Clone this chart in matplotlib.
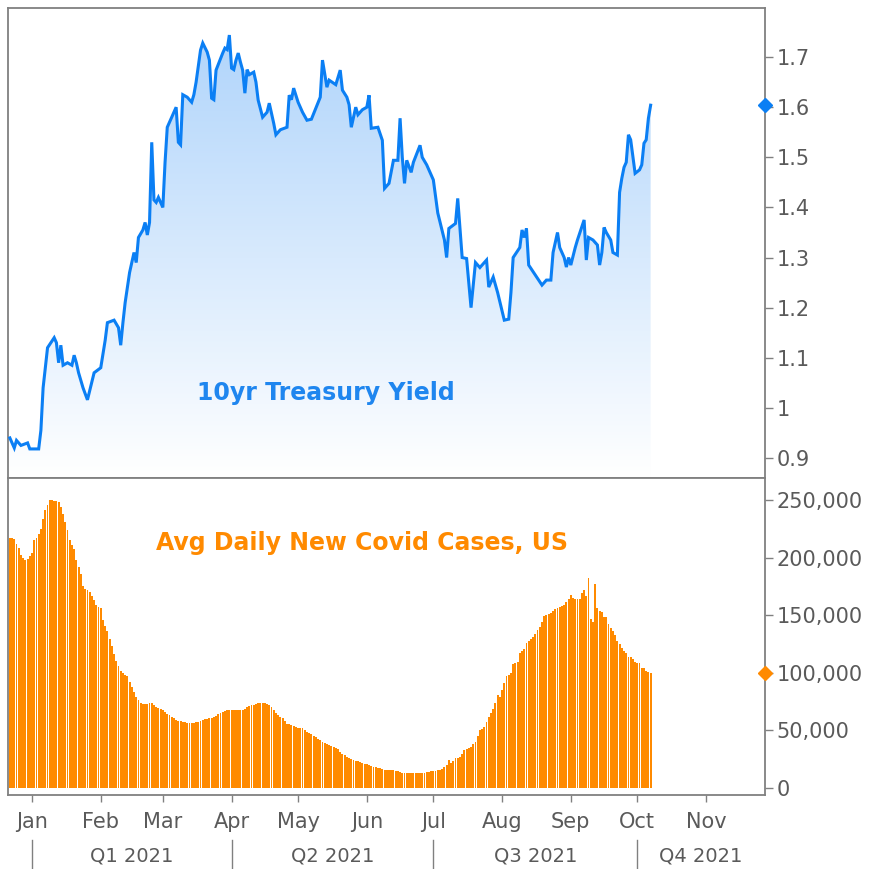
import matplotlib
matplotlib.use("Agg")
import numpy as np
import pandas as pd
import matplotlib.pyplot as plt
import matplotlib.dates as mdates
from matplotlib.colors import LinearSegmentedColormap
from matplotlib.patches import Polygon
from matplotlib.transforms import blended_transform_factory

# -----------------------------
# DATA
# -----------------------------
yield_dates = [
    "2020-12-22", "2020-12-24", "2020-12-25", "2020-12-27", "2020-12-30", "2020-12-31",
    "2021-01-04", "2021-01-05", "2021-01-06", "2021-01-07", "2021-01-08", "2021-01-11",
    "2021-01-12", "2021-01-13", "2021-01-14", "2021-01-15", "2021-01-17", "2021-01-19",
    "2021-01-20", "2021-01-21", "2021-01-22", "2021-01-24", "2021-01-26", "2021-01-29",
    "2021-02-01", "2021-02-03", "2021-02-04", "2021-02-07", "2021-02-09", "2021-02-10",
    "2021-02-11", "2021-02-12", "2021-02-14", "2021-02-15", "2021-02-16", "2021-02-17",
    "2021-02-18", "2021-02-20", "2021-02-21", "2021-02-22", "2021-02-23", "2021-02-24",
    "2021-02-25", "2021-02-26", "2021-02-27", "2021-03-01", "2021-03-02", "2021-03-03",
    "2021-03-05", "2021-03-07", "2021-03-08", "2021-03-09", "2021-03-10", "2021-03-12",
    "2021-03-14", "2021-03-15", "2021-03-16", "2021-03-18", "2021-03-19", "2021-03-21",
    "2021-03-22", "2021-03-23", "2021-03-24", "2021-03-25", "2021-03-28", "2021-03-29",
    "2021-03-30", "2021-03-31", "2021-04-01", "2021-04-02", "2021-04-03", "2021-04-04",
    "2021-04-05", "2021-04-06", "2021-04-07", "2021-04-08", "2021-04-09", "2021-04-11",
    "2021-04-12", "2021-04-13", "2021-04-15", "2021-04-17", "2021-04-18", "2021-04-20",
    "2021-04-21", "2021-04-23", "2021-04-26", "2021-04-27", "2021-04-28", "2021-04-29",
    "2021-05-01", "2021-05-03", "2021-05-05", "2021-05-07", "2021-05-09", "2021-05-11",
    "2021-05-12", "2021-05-14", "2021-05-15", "2021-05-18", "2021-05-20", "2021-05-21",
    "2021-05-23", "2021-05-24", "2021-05-25", "2021-05-27", "2021-05-28", "2021-05-30",
    "2021-06-01", "2021-06-02", "2021-06-03", "2021-06-06", "2021-06-08", "2021-06-09",
    "2021-06-11", "2021-06-13", "2021-06-15", "2021-06-16", "2021-06-17", "2021-06-18",
    "2021-06-19", "2021-06-21", "2021-06-22", "2021-06-25", "2021-06-26", "2021-06-28",
    "2021-07-01", "2021-07-03", "2021-07-06", "2021-07-07", "2021-07-08", "2021-07-11",
    "2021-07-12", "2021-07-14", "2021-07-16", "2021-07-18", "2021-07-20", "2021-07-22",
    "2021-07-25", "2021-07-26", "2021-07-28", "2021-07-30", "2021-08-02", "2021-08-04",
    "2021-08-05", "2021-08-06", "2021-08-09", "2021-08-10", "2021-08-11", "2021-08-12",
    "2021-08-13", "2021-08-16", "2021-08-19", "2021-08-21", "2021-08-23", "2021-08-24",
    "2021-08-26", "2021-08-27", "2021-08-29", "2021-08-30", "2021-08-31", "2021-09-01",
    "2021-09-03", "2021-09-04", "2021-09-07", "2021-09-08", "2021-09-09", "2021-09-11",
    "2021-09-13", "2021-09-14", "2021-09-15", "2021-09-16", "2021-09-17", "2021-09-19",
    "2021-09-20", "2021-09-22", "2021-09-23", "2021-09-24", "2021-09-25", "2021-09-26",
    "2021-09-27", "2021-09-28", "2021-09-30", "2021-10-02", "2021-10-03", "2021-10-04",
    "2021-10-05", "2021-10-06", "2021-10-07",
]
yield_vals = [
    0.94, 0.92, 0.935, 0.925, 0.93, 0.918,
    0.918, 0.955, 1.04, 1.08, 1.12, 1.14,
    1.13, 1.09, 1.125, 1.085, 1.09, 1.085,
    1.105, 1.09, 1.07, 1.04, 1.016, 1.07,
    1.08, 1.135, 1.17, 1.175, 1.16, 1.125,
    1.17, 1.21, 1.27, 1.29, 1.31, 1.29,
    1.34, 1.355, 1.37, 1.345, 1.37, 1.53,
    1.415, 1.41, 1.42, 1.40, 1.49, 1.56,
    1.58, 1.60, 1.53, 1.525, 1.625, 1.62,
    1.61, 1.625, 1.65, 1.714, 1.728, 1.71,
    1.694, 1.618, 1.615, 1.674, 1.708, 1.718,
    1.715, 1.744, 1.678, 1.675, 1.694, 1.708,
    1.69, 1.674, 1.628, 1.675, 1.665, 1.67,
    1.65, 1.614, 1.58, 1.59, 1.608, 1.568,
    1.545, 1.555, 1.56, 1.624, 1.615, 1.638,
    1.61, 1.59, 1.574, 1.576, 1.598, 1.62,
    1.694, 1.64, 1.654, 1.645, 1.674, 1.634,
    1.62, 1.605, 1.56, 1.60, 1.585, 1.595,
    1.60, 1.624, 1.558, 1.56, 1.534, 1.438,
    1.448, 1.494, 1.494, 1.578, 1.50, 1.448,
    1.494, 1.47, 1.49, 1.524, 1.50, 1.485,
    1.455, 1.389, 1.335, 1.30, 1.358, 1.368,
    1.418, 1.30, 1.298, 1.20, 1.29, 1.28,
    1.295, 1.241, 1.261, 1.23, 1.175, 1.177,
    1.23, 1.30, 1.32, 1.355, 1.34, 1.358,
    1.285, 1.265, 1.245, 1.255, 1.255, 1.31,
    1.35, 1.32, 1.30, 1.281, 1.30, 1.285,
    1.32, 1.335, 1.375, 1.295, 1.34, 1.335,
    1.325, 1.285, 1.31, 1.36, 1.35, 1.335,
    1.31, 1.305, 1.43, 1.458, 1.48, 1.49,
    1.545, 1.535, 1.468, 1.475, 1.485, 1.528,
    1.535, 1.578, 1.604,
]

# daily 7-day average new cases (thousands), one value per day from covid_start
covid_start = "2020-12-22"
covid_k = [
    217, 217, 216, 212, 208, 202, 200, 198, 199, 201,
    204, 215, 217, 220, 225, 233, 241, 246, 250, 250,
    249, 249, 248, 244, 238, 231, 224, 215, 211, 207,
    198, 192, 186, 175, 173, 172, 170, 167, 163, 159,
    157, 156, 146, 141, 136, 129, 123, 116, 110, 106,
    102, 100, 98, 97, 92, 88, 83, 79, 76, 74,
    73, 73, 73, 74, 73.5, 72, 70.6, 69.5, 68.5, 67.7,
    66, 64.5, 63.4, 62, 60.5, 59, 58.5, 58, 57.6, 57,
    56.5, 56.2, 56.5, 56.8, 57, 57.5, 58.2, 59, 59.5, 60,
    60.5, 61, 62, 62.5, 64, 65, 66, 67, 67.5, 67.7,
    67.7, 67.7, 67.7, 67.7, 67.7, 68, 69, 70.6, 71.5, 72,
    72.5, 73, 73.5, 74, 74, 73.5, 73, 72, 70.6, 68,
    65, 63.5, 62, 61, 58.5, 56, 55.5, 55, 54, 53,
    52, 52, 52, 50.5, 49, 47.5, 46.5, 45.5, 44.5, 43,
    41.5, 40, 39, 38, 37, 36.3, 35.7, 35, 33.5, 31.5,
    30, 28.5, 27, 26, 25, 24.3, 23.8, 23.3, 22.8, 22,
    21.3, 20.6, 20, 19.2, 18.5, 18, 17.5, 17, 16.5, 16,
    15.6, 15.6, 15.6, 15.6, 15, 14.5, 14, 13.5, 13, 12.7,
    12.7, 12.7, 12.7, 12.7, 12.7, 12.7, 13, 13.5, 14, 14.2,
    14.4, 14.6, 15, 15.3, 15.6, 16.5, 18.5, 20, 24, 21.5,
    23.5, 25.7, 26.5, 27, 30, 33, 34, 35, 36, 38,
    40, 45, 50, 51.5, 53, 57, 62, 65, 69, 74,
    81, 79, 85, 91, 97, 98.5, 100, 108, 108.5, 109,
    117, 119, 121, 126, 127.5, 129, 131.5, 134, 137, 140,
    144, 149, 150, 151, 152, 153.5, 155, 156, 157, 158,
    159, 161, 164, 167.5, 165, 164, 164, 164, 169, 172,
    167, 182, 147, 144, 177, 156, 154, 153, 148, 148.7,
    142, 139, 136, 133, 128, 125, 121.5, 119, 116.9, 114,
    114, 112, 109.6, 108.5, 108.8, 104, 103.9, 102, 101, 100,
]

month_labels = ["Jan", "Feb", "Mar", "Apr", "May", "Jun", "Jul", "Aug", "Sep", "Oct", "Nov"]
quarter_labels = ["Q1 2021", "Q2 2021", "Q3 2021", "Q4 2021"]
yield_ticks = [0.9, 1.0, 1.1, 1.2, 1.3, 1.4, 1.5, 1.6, 1.7]
yield_ticklabels = ["0.9", "1", "1.1", "1.2", "1.3", "1.4", "1.5", "1.6", "1.7"]
covid_ticks = [0, 50000, 100000, 150000, 200000, 250000]

# -----------------------------
# STYLE
# -----------------------------
BLUE = "#0b7ff4"
BLUE_TXT = "#1f86ef"
ORANGE = "#ff8a00"
GRID = "#808080"
TXT = "#5a5a5a"

x_min = mdates.date2num(pd.Timestamp("2020-12-21 04:00"))
x_max = mdates.date2num(pd.Timestamp("2021-11-27 14:00"))

fig = plt.figure(figsize=(8.71, 8.69), dpi=100)
ax1 = fig.add_axes([8 / 871, 1 - 478 / 869, 757 / 871, 470 / 869])
ax2 = fig.add_axes([8 / 871, 1 - 795 / 869, 757 / 871, 317 / 869])

for ax in (ax1, ax2):
    for s in ax.spines.values():
        s.set_color(GRID)
        s.set_linewidth(1.3)
    ax.yaxis.tick_right()
    ax.tick_params(axis="y", direction="out", length=5.5, width=1, color=GRID,
                   labelsize=15, labelcolor=TXT, pad=3)
    ax.set_xlim(x_min, x_max)

# -----------------------------
# TOP PANEL: 10yr yield
# -----------------------------
yx = mdates.date2num(pd.to_datetime(yield_dates))
yv = np.array(yield_vals)
y_lo, y_hi = 0.86, 1.798

cmap = LinearSegmentedColormap.from_list("fade", ["#ffffff", "#b1d5fb"])
grad = np.linspace(0, 1, 256).reshape(-1, 1)
im = ax1.imshow(grad, extent=[x_min, x_max, y_lo, 1.74], origin="lower",
                aspect="auto", cmap=cmap, zorder=1)
verts = [(yx[0], y_lo)] + list(zip(yx, yv)) + [(yx[-1], y_lo)]
clip = Polygon(verts, closed=True, transform=ax1.transData, facecolor="none", edgecolor="none")
ax1.add_patch(clip)
im.set_clip_path(clip)

ax1.plot(yx, yv, color=BLUE, lw=2.2, zorder=3, solid_joinstyle="miter")
ax1.set_xlim(x_min, x_max)
ax1.set_ylim(y_lo, y_hi)
ax1.set_yticks(yield_ticks)
ax1.set_yticklabels(yield_ticklabels)
ax1.set_xticks([])

tr1 = blended_transform_factory(ax1.transAxes, ax1.transData)
ax1.plot([1.0], [yv[-1]], marker="D", ms=7, color=BLUE, transform=tr1, clip_on=False, zorder=5)

ax1.text(0.42, 0.18, "10yr Treasury Yield", transform=ax1.transAxes, ha="center", va="center",
         fontsize=17, fontweight="bold", color=BLUE_TXT)

# -----------------------------
# BOTTOM PANEL: covid cases
# -----------------------------
cdates = pd.date_range(covid_start, periods=len(covid_k), freq="D")
cvals = np.array(covid_k) * 1000
ax2.bar(mdates.date2num(cdates), cvals, width=0.85, color=ORANGE, linewidth=0, zorder=2)
ax2.set_xlim(x_min, x_max)
ax2.set_ylim(-6000, 269000)
ax2.set_yticks(covid_ticks)
ax2.set_yticklabels([f"{v:,}" for v in covid_ticks])

tr2 = blended_transform_factory(ax2.transAxes, ax2.transData)
ax2.plot([1.0], [cvals[-1]], marker="D", ms=7, color=ORANGE, transform=tr2, clip_on=False, zorder=5)

ax2.text(0.468, 0.795, "Avg Daily New Covid Cases, US", transform=ax2.transAxes, ha="center",
         va="center", fontsize=17, fontweight="bold", color=ORANGE)

# month ticks
month_starts = pd.date_range("2021-01-01", periods=len(month_labels), freq="MS")
ax2.set_xticks(mdates.date2num(month_starts))
ax2.set_xticklabels(month_labels)
ax2.tick_params(axis="x", direction="out", length=5, width=1, color=GRID,
                labelsize=15, labelcolor=TXT, pad=7)

# quarter separators and labels
q_starts = mdates.date2num(pd.date_range("2021-01-01", periods=len(quarter_labels), freq="QS"))
trx = blended_transform_factory(ax2.transData, ax2.transAxes)
q_edges = list(q_starts) + [x_max]
for i, q in enumerate(quarter_labels):
    ax2.plot([q_starts[i], q_starts[i]], [-0.142, -0.24], color=GRID, lw=1,
             transform=trx, clip_on=False)
    ax2.text((q_edges[i] + q_edges[i + 1]) / 2, -0.193, q, transform=trx, ha="center",
             va="center", fontsize=14, color=TXT)

fig.savefig("out.png", dpi=100)
